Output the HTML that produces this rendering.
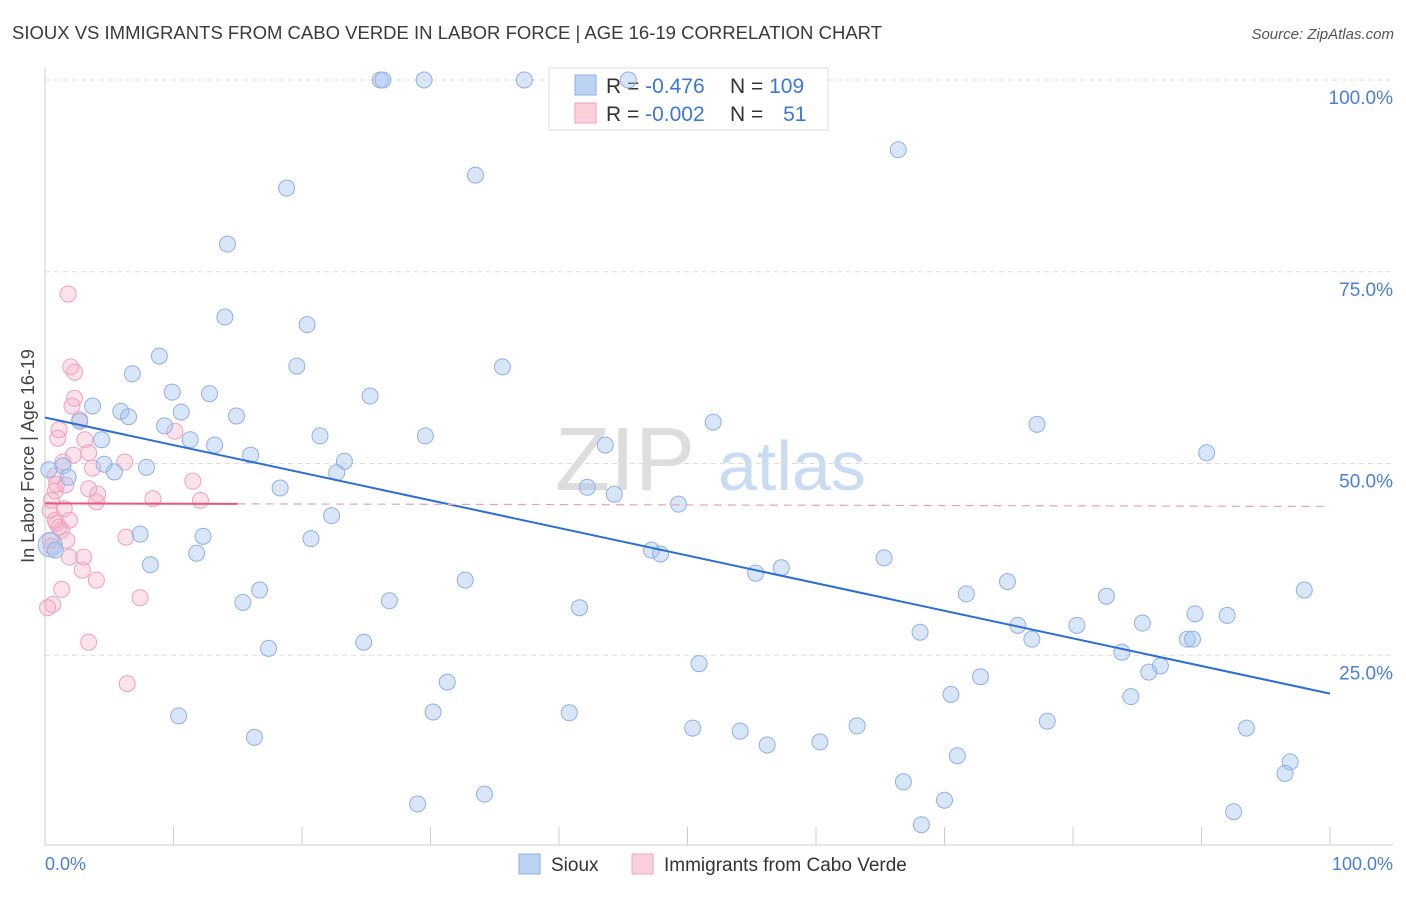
<!DOCTYPE html>
<html><head><meta charset="utf-8"><style>
body{margin:0;background:#fff;font-family:"Liberation Sans",sans-serif}
svg text{font-family:"Liberation Sans",sans-serif}
</style></head><body>
<svg id="chart" width="1406" height="892" xmlns="http://www.w3.org/2000/svg">
<text x="12" y="39" font-size="18.5" fill="#3a3a3a" textLength="870">SIOUX VS IMMIGRANTS FROM CABO VERDE IN LABOR FORCE | AGE 16-19 CORRELATION CHART</text>
<text x="1394" y="39" font-size="15" fill="#555" font-style="italic" text-anchor="end">Source: ZipAtlas.com</text>
<g>
<text x="555" y="490" font-size="90" fill="#ddd" font-family="Liberation Serif">ZIP</text>
<text x="718" y="490" font-size="70" fill="#c9dcf2">atlas</text>
</g>
<g id="grid"></g>
<g id="axes"></g>
<g>
<rect x="549" y="68" width="279" height="62" fill="#fff" stroke="#ddd"/>
<rect x="575" y="75" width="21" height="20" fill="#bcd3f3" stroke="#8fb0e6"/>
<rect x="575" y="103" width="21" height="20" fill="#fcd0dd" stroke="#f0a0bc"/>
<text x="606" y="93" font-size="21" fill="#333">R = <tspan fill="#3d77d4">-0.476</tspan></text>
<text x="730" y="93" font-size="21" fill="#333">N = <tspan fill="#3d77d4">109</tspan></text>
<text x="606" y="121" font-size="21" fill="#333">R = <tspan fill="#3d77d4">-0.002</tspan></text>
<text x="730" y="121" font-size="21" fill="#333">N = <tspan fill="#3d77d4" dx="14">51</tspan></text>
</g>
<g id="pts"></g>
<g id="trends"></g>
<text x="34" y="456" font-size="18" fill="#444" text-anchor="middle" transform="rotate(-90 34 456)">In Labor Force | Age 16-19</text>
<text x="45" y="870" font-size="18" fill="#4a7fd4">0.0%</text>
<text x="1393" y="870" font-size="18" fill="#4a7fd4" text-anchor="end">100.0%</text>
<g>
<rect x="519" y="854" width="21" height="20" fill="#bcd3f3" stroke="#8fb0e6"/>
<text x="551" y="871" font-size="19" fill="#333">Sioux</text>
<rect x="632" y="854" width="21" height="20" fill="#fcd0dd" stroke="#f0a0bc"/>
<text x="664" y="871" font-size="19" fill="#333">Immigrants from Cabo Verde</text>
</g>
</svg>
<script>
const yTicks=[25,50,75,100];
const yTickLabels=["25.0%","50.0%","75.0%","100.0%"];
const xTicks=[0,10,20,30,40,50,60,70,80,90,100];
const siouxX=[26.1,26.3,29.5,37.3,45.4,66.4,33.5,18.8,14.2,14.0,20.4,8.9,19.6,35.6,6.8,9.9,12.8,25.3,3.7,5.9,10.6,6.5,14.9,2.7,52.0,9.3,77.2,4.4,11.3,21.4,29.6,13.2,43.6,16.0,90.4,23.3,4.6,7.9,1.4,22.7,1.8,5.4,18.3,42.2,44.3,49.3,22.3,7.4,12.3,20.7,47.2,47.9,11.8,65.3,8.2,55.3,57.3,32.7,74.9,16.7,15.4,71.7,26.8,82.6,41.6,89.5,92.0,98.0,68.1,75.7,80.3,85.4,76.8,88.9,89.3,24.8,17.4,83.8,50.9,86.8,85.9,72.8,31.3,70.5,84.5,10.4,30.2,40.8,78.0,50.4,54.1,63.2,93.5,56.2,60.3,16.3,71.0,96.9,96.5,66.8,34.2,70.0,29.0,92.5,68.2,0.3,0.4,0.8];
const siouxY=[100,100,100,100,100,90.9,87.6,85.9,78.6,69.1,68.1,64.0,62.7,62.6,61.7,59.3,59.1,58.8,57.5,56.8,56.7,56.1,56.2,55.5,55.4,54.9,55.1,53.1,53.1,53.6,53.6,52.4,52.4,51.1,51.4,50.3,49.9,49.5,49.7,48.8,48.2,48.9,46.8,46.9,46.0,44.7,43.2,40.8,40.5,40.2,38.7,38.2,38.3,37.7,36.8,35.7,36.4,34.8,34.6,33.5,31.9,33.0,32.1,32.7,31.2,30.4,30.2,33.5,28.0,28.9,28.9,29.2,27.1,27.1,27.1,26.7,25.9,25.4,23.9,23.6,22.8,22.2,21.5,19.9,19.6,17.1,17.6,17.5,16.4,15.5,15.1,15.8,15.5,13.3,13.7,14.3,11.9,11.1,9.6,8.5,6.9,6.1,5.6,4.6,2.9,49.2,39.4,38.7];
const caboX=[1.8,2.0,2.3,2.3,2.1,2.7,1.1,1.0,3.1,10.1,2.2,3.4,3.7,6.2,1.4,0.8,11.5,0.9,0.8,3.4,4.1,8.4,12.1,4.0,0.4,1.5,0.9,1.1,1.3,6.3,1.7,0.4,0.5,3.0,1.9,2.9,4.0,1.3,7.4,0.6,0.2,3.4,6.4,0.8,1.9,0.5,1.6];
const caboY=[72.1,62.6,61.9,58.5,57.5,55.7,54.4,53.3,53.1,54.2,51.1,51.4,49.4,50.2,50.2,48.4,47.7,47.3,46.4,46.7,46.0,45.4,45.2,45.0,43.9,44.1,42.2,41.7,41.3,40.4,40.0,40.0,39.2,37.8,37.8,36.1,34.8,33.6,32.5,31.6,31.2,26.7,21.3,42.6,42.6,45.2,47.2];
const siouxTrend=[56.0,20.0];
const caboTrend=[44.8,44.4];
const caboSolidEnd=15;
const X=v=>45+v*12.85, Y=v=>847-v*7.67;
const NS="http://www.w3.org/2000/svg";
function mk(tag,attrs,parent){const e=document.createElementNS(NS,tag);for(const k in attrs)e.setAttribute(k,attrs[k]);document.getElementById(parent).appendChild(e);return e;}
yTicks.forEach((t,i)=>{
 const l=mk('line',{x1:45,x2:1393,y1:Y(t),y2:Y(t),stroke:'#ddd','stroke-dasharray':'5,4'},'grid');
 
 
 const tx=mk('text',{x:1393,y:Y(t)+24,'font-size':19,fill:'#4a7fd4','text-anchor':'end'},'grid');
 tx.textContent=yTickLabels[i];
 
 
});
const ax=mk('line',{x1:45,x2:45,y1:68,y2:845,stroke:'#ccc'},'axes');


const bx=mk('line',{x1:45,x2:1393,y1:845,y2:845,stroke:'#ccc'},'axes');


xTicks.forEach(t=>{
 const l=mk('line',{x1:X(t),x2:X(t),y1:827,y2:845,stroke:'#ccc'},'axes');
 
 
});
caboX.forEach((v,i)=>{
 const c=mk('circle',{cx:X(v),cy:Y(caboY[i]),r:8,fill:'rgba(246,175,198,0.35)',stroke:'#f0a0bc','stroke-width':1},'pts');
 
 
});
siouxX.forEach((v,i)=>{
 const big=i===siouxX.length-2;
 const c=mk('circle',{cx:X(v),cy:Y(siouxY[i]),r:big?12:8,fill:'rgba(165,195,238,0.42)',stroke:'#8fb0e6','stroke-width':1},'pts');
 
 
});
const st=mk('line',{x1:X(0),y1:Y(siouxTrend[0]),x2:X(100),y2:Y(siouxTrend[1]),stroke:'#2b6fd6','stroke-width':2},'trends');


const cy=x=>caboTrend[0]+(caboTrend[1]-caboTrend[0])*x/100;
const cs=mk('line',{x1:X(0),y1:Y(cy(0)),x2:X(caboSolidEnd),y2:Y(cy(caboSolidEnd)),stroke:'#e8557f','stroke-width':2},'trends');


const cd=mk('line',{x1:X(caboSolidEnd),y1:Y(cy(caboSolidEnd)),x2:X(100),y2:Y(cy(100)),stroke:'#eaa0b6','stroke-width':1.2,'stroke-dasharray':'8,6'},'trends');


</script>
</body></html>
